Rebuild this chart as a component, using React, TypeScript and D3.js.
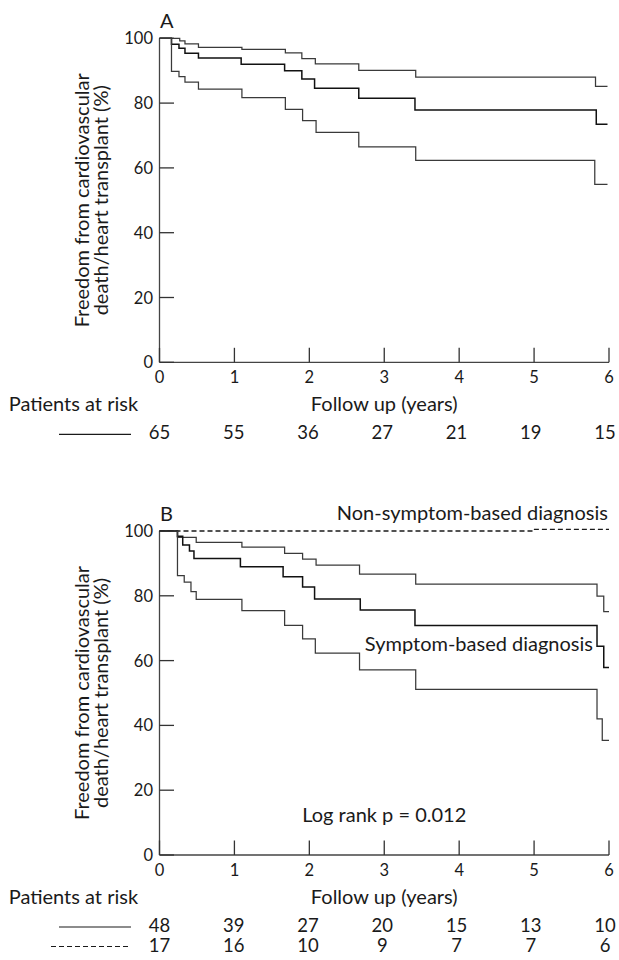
import * as d3 from "d3";
import React from "react";

// Kaplan-Meier: freedom from cardiovascular death / heart transplant
const years = [0, 1, 2, 3, 4, 5, 6];
const yTicks = [0, 20, 40, 60, 80, 100];

// panel A: all patients  [years, %]
const aUpper = [[0, 100], [0.27, 99.2], [0.34, 98.3], [0.52, 97.2], [1.1, 96.6], [1.68, 95.5], [1.9, 93.7], [2.08, 92.1], [2.66, 90.1], [3.42, 88.0], [5.82, 85.2]];
const aEstimate = [[0, 100], [0.16, 98.2], [0.26, 96.9], [0.34, 95.4], [0.52, 93.9], [1.09, 92.0], [1.67, 90.0], [1.9, 87.4], [2.07, 84.6], [2.66, 81.5], [3.41, 77.9], [5.83, 73.5]];
const aLower = [[0, 100], [0.16, 89.8], [0.26, 88.2], [0.34, 86.5], [0.52, 84.3], [1.1, 81.7], [1.68, 78.1], [1.91, 74.6], [2.09, 71.0], [2.66, 66.5], [3.42, 62.3], [5.81, 54.9]];
const aEnd = 5.98;
const riskA = [65, 55, 36, 27, 21, 19, 15];

// panel B: symptom based vs non-symptom based diagnosis
const bUpper = [[0, 100], [0.24, 98.0], [0.49, 96.5], [1.1, 95.0], [1.67, 93.1], [1.91, 91.3], [2.09, 89.5], [2.67, 86.7], [3.42, 83.6], [5.84, 79.9], [5.93, 75.1]];
const bEstimate = [[0, 100], [0.24, 98.4], [0.31, 95.7], [0.4, 93.8], [0.46, 91.5], [1.08, 89.0], [1.65, 85.9], [1.91, 82.7], [2.07, 79.0], [2.68, 75.6], [3.41, 70.8], [5.84, 64.4], [5.93, 57.9]];
const bLower = [[0, 100], [0.24, 86.2], [0.33, 84.2], [0.42, 81.3], [0.49, 78.9], [1.1, 75.4], [1.67, 70.9], [1.91, 66.7], [2.08, 62.3], [2.67, 57.1], [3.42, 51.1], [5.84, 42.0], [5.91, 35.4]];
const bNonSymptom = [[0, 100], [4.98, 100.5]];
const bEnd = 6.0;
const riskBSymptom = [48, 39, 27, 20, 15, 13, 10];
const riskBNonSymptom = [17, 16, 10, 9, 7, 7, 6];

const FONT = "Lato, 'Noto Sans', sans-serif";
const INK = "#1a1a1a";

const x = d3.scaleLinear().domain([0, 6]).range([159.5, 609]);
// the at-risk columns sit a little tighter than the axis ticks
const xRisk = d3.scaleLinear().domain([0, 6]).range([159.5, 605]);

const withEnd = (pts: number[][], end: number) => [...pts, [end, pts[pts.length - 1][1]]];

function Panel({ off, letter, curves, end, dashed, rows, children }: any) {
  const y = d3.scaleLinear().domain([0, 100]).range([362.3 + off, 38.3 + off]);
  const line = d3.line<number[]>()
    .x((d) => x(d[0]))
    .y((d) => y(d[1]))
    .curve(d3.curveStepAfter);
  const bottom = y(0);
  const midY = (y(0) + y(100)) / 2;

  return (
    <g>
      <text x={160} y={y(100) - 10.5} fontSize={20} fill={INK}>{letter}</text>

      {/* axes */}
      <line x1={x(0)} x2={x(0)} y1={y(100)} y2={bottom} stroke="#444" strokeWidth={1.3} />
      <line x1={x(0)} x2={x(6)} y1={bottom} y2={bottom} stroke="#444" strokeWidth={1.3} />
      {yTicks.map((t) => (
        <g key={"y" + t}>
          <line x1={x(0)} x2={x(0) + 14.5} y1={y(t)} y2={y(t)} stroke="#333" strokeWidth={1.3} />
          <text x={153} y={y(t) + 6} textAnchor="end" fontSize={16.5} fill={INK}>{t}</text>
        </g>
      ))}
      {years.map((t) => (
        <g key={"x" + t}>
          <line x1={x(t)} x2={x(t)} y1={bottom} y2={bottom - 14.5} stroke="#333" strokeWidth={1.3} />
          <text x={x(t)} y={bottom + 21} textAnchor="middle" fontSize={16.5} fill={INK}>{t}</text>
        </g>
      ))}

      {/* y label */}
      <g transform={`translate(89, ${midY}) rotate(-90)`}>
        <text textAnchor="middle" fontSize={20} fill={INK}>Freedom from cardiovascular</text>
      </g>
      <g transform={`translate(108, ${midY}) rotate(-90)`}>
        <text textAnchor="middle" fontSize={20} fill={INK}>death/heart transplant (%)</text>
      </g>

      {/* curves */}
      {dashed && (
        <path d={line(withEnd(dashed, end)) || ""} fill="none" stroke={INK} strokeWidth={1.3} strokeDasharray="5,3" />
      )}
      {curves.map((c: number[][], i: number) => (
        <path key={i} d={line(withEnd(c, end)) || ""} fill="none"
          stroke={i === 1 ? "#111" : "#3a3a3a"} strokeWidth={i === 1 ? 1.5 : 1.25} />
      ))}

      {/* at-risk table */}
      <text x={x(3)} y={bottom + 49} textAnchor="middle" fontSize={20} fill={INK}>Follow up (years)</text>
      <text x={8.7} y={bottom + 49} fontSize={20} fill={INK}>Patients at risk</text>
      {rows.map((r: any, j: number) => (
        <g key={"r" + j}>
          <line x1={r.dash ? 51 : 59} x2={131} y1={bottom + 77 + j * 19.5 - 5} y2={bottom + 77 + j * 19.5 - 5}
            stroke={INK} strokeWidth={1.2} strokeDasharray={r.dash ? "5,3" : undefined} />
          {r.values.map((v: number, i: number) => (
            <text key={i} x={xRisk(years[i])} y={bottom + 77 + j * 19.5} textAnchor="middle" fontSize={18.5} fill={INK}>{v}</text>
          ))}
        </g>
      ))}
      {children && children(y)}
    </g>
  );
}

export default function App() {
  return (
    <svg width={619} height={960} style={{ position: "absolute", left: 0, top: 0, background: "#fff" }}
      fontFamily={FONT}>
      <rect width={619} height={960} fill="#fff" />
      <Panel off={0} letter="A" curves={[aUpper, aEstimate, aLower]} end={aEnd}
        rows={[{ values: riskA, dash: false }]} />
      <Panel off={492.7} letter="B" curves={[bUpper, bEstimate, bLower]} end={bEnd} dashed={bNonSymptom}
        rows={[{ values: riskBSymptom, dash: false }, { values: riskBNonSymptom, dash: true }]}>
        {(y: any) => (
          <g fontSize={20} fill={INK}>
            <text x={608} y={y(100) - 11.5} textAnchor="end">Non-symptom-based diagnosis</text>
            <text x={593} y={y(100) + 119.7} textAnchor="end">Symptom-based diagnosis</text>
            <text x={x(3)} y={y(0) - 32.7} textAnchor="middle">Log rank p = 0.012</text>
          </g>
        )}
      </Panel>
    </svg>
  );
}
